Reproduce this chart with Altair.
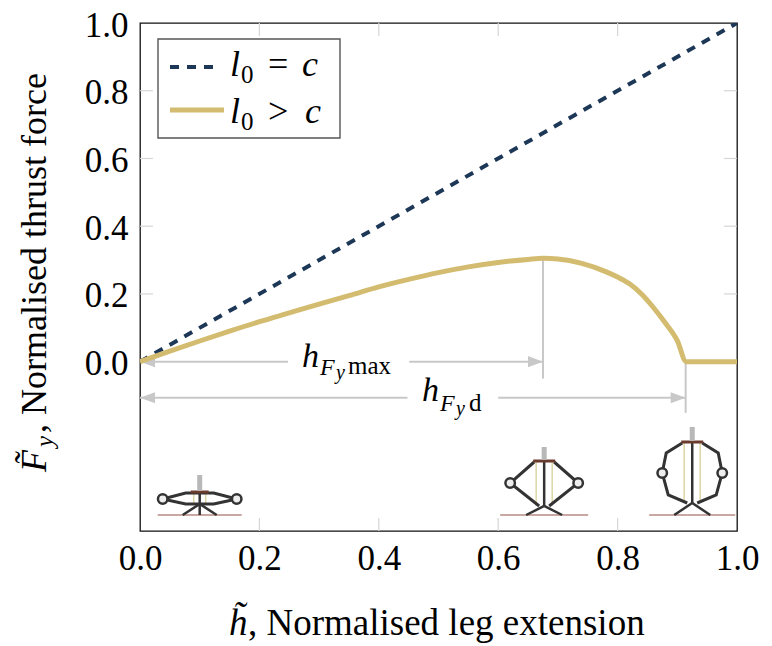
import altair as alt
import pandas as pd

# ---------------- data ----------------
h_norm = [0.0, 0.05, 0.10, 0.15, 0.20, 0.25, 0.30, 0.35, 0.40, 0.45, 0.50, 0.55, 0.60,
          0.65, 0.675, 0.70, 0.74, 0.78, 0.80, 0.82, 0.84, 0.86, 0.88, 0.90, 0.915, 1.0]
F_l0_gt_c = [0.0, 0.031, 0.061, 0.090, 0.118, 0.144, 0.170, 0.195, 0.221, 0.243, 0.263, 0.280, 0.293,
             0.302, 0.305, 0.303, 0.290, 0.266, 0.250, 0.230, 0.200, 0.160, 0.114, 0.062, 0.0, 0.0]
h_eq = [0.0, 1.0]
F_l0_eq_c = [0.0, 1.0]

tick_vals = [0.0, 0.2, 0.4, 0.6, 0.8, 1.0]
inner_tick_vals = [0.2, 0.4, 0.6, 0.8]

h_Fy_max = 0.675      # extension at peak thrust
F_peak = 0.305
h_Fy_d = 0.914        # extension where thrust vanishes
arrow_levels = [0.0, -0.1065]
guide_bottoms = [-0.05, -0.151]
gap_max = [0.248, 0.451]
gap_d = [0.448, 0.600]
robot_h = [0.10, 0.677, 0.925]

# ---------------- style ----------------
W, H = 597, 508
OX, OY = 140, 23          # page position of plot origin (used for text layout)
SERIF = "Liberation Serif"
NAVY = "#1d3856"
GOLD = "#d3bc70"
GREY = "#c8c8c8"
TICK = "#d6d6d6"

xs = alt.Scale(domain=[0, 1], nice=False, zero=False)
ys = alt.Scale(domain=[-0.5, 1], nice=False, zero=False)
xaxis = alt.Axis(values=tick_vals, format=".1f", ticks=False, domain=False, grid=False,
                 labelFont=SERIF, labelFontSize=35, labelColor="black", labelPadding=10,
                 labelFlush=False, labelOverlap=False, title=None)
yaxis = alt.Axis(values=tick_vals, format=".1f", ticks=False, domain=False, grid=False,
                 labelFont=SERIF, labelFontSize=35, labelColor="black", labelPadding=12,
                 labelOffset=2, labelFlush=False, labelOverlap=False, title=None)


def X(f):
    return alt.X(f, scale=xs, axis=xaxis)


def Y(f):
    return alt.Y(f, scale=ys, axis=yaxis)


def PX(f):
    return alt.X(f, scale=None, axis=None)


def PY(f):
    return alt.Y(f, scale=None, axis=None)


def text_rows(items):
    return pd.DataFrame([{"t": t, "px": x - OX, "py": y - OY, "fs": s} for t, x, y, s in items])


def text_layer(items, style="normal", angle=None):
    kw = dict(align="left", baseline="alphabetic", font=SERIF, color="black", fontStyle=style)
    if angle is not None:
        kw["angle"] = angle
    return alt.Chart(text_rows(items)).mark_text(**kw).encode(
        x=PX("px:Q"), y=PY("py:Q"), text="t:N", size=alt.Size("fs:Q", scale=None))


# ---------------- inner ticks ----------------
df_it = pd.DataFrame({"v": inner_tick_vals})
tick_b = alt.Chart(df_it).mark_rule(color=TICK, strokeWidth=1.2).encode(
    x=X("v:Q"), y=alt.value(H), y2=alt.value(H - 13))
tick_t = alt.Chart(df_it).mark_rule(color=TICK, strokeWidth=1.2).encode(
    x=X("v:Q"), y=alt.value(0), y2=alt.value(13))
tick_l = alt.Chart(df_it).mark_rule(color=TICK, strokeWidth=1.2).encode(
    y=Y("v:Q"), x=alt.value(0), x2=alt.value(13))
tick_r = alt.Chart(df_it).mark_rule(color=TICK, strokeWidth=1.2).encode(
    y=Y("v:Q"), x=alt.value(W), x2=alt.value(W - 13))

# ---------------- dimension arrows ----------------
df_seg = pd.DataFrame({
    "x1": [0.0, gap_max[1], 0.0, gap_d[1]],
    "x2": [gap_max[0], h_Fy_max, gap_d[0], h_Fy_d],
    "y": [arrow_levels[0], arrow_levels[0], arrow_levels[1], arrow_levels[1]],
})
segs = alt.Chart(df_seg).mark_rule(color=GREY, strokeWidth=2).encode(
    x=X("x1:Q"), x2="x2:Q", y=Y("y:Q"))
df_vg = pd.DataFrame({"x": [h_Fy_max, h_Fy_d], "y1": [F_peak, 0.0], "y2": guide_bottoms})
vguides = alt.Chart(df_vg).mark_rule(color=GREY, strokeWidth=2).encode(
    x=X("x:Q"), y=Y("y1:Q"), y2="y2:Q")
df_al = pd.DataFrame({"x": [0.0, 0.0], "y": arrow_levels})
df_ar = pd.DataFrame({"x": [h_Fy_max, h_Fy_d], "y": arrow_levels})
head_l = alt.Chart(df_al).mark_point(shape="M0,0L1,-0.37L1,0.37Z", size=900, filled=True,
                                     color=GREY, opacity=1, strokeWidth=0).encode(x=X("x:Q"), y=Y("y:Q"))
head_r = alt.Chart(df_ar).mark_point(shape="M0,0L-1,-0.37L-1,0.37Z", size=900, filled=True,
                                     color=GREY, opacity=1, strokeWidth=0).encode(x=X("x:Q"), y=Y("y:Q"))

dim_it = text_layer([("h", 302, 367, 34), ("F", 320, 375, 24), ("y", 336, 379, 20),
                     ("h", 422, 401, 34), ("F", 440, 411, 24), ("y", 456, 415, 20)], "italic")
dim_rm = text_layer([("max", 348, 374, 25), ("d", 469, 411, 25)])

# ---------------- curves ----------------
df_eq = pd.DataFrame({"h": h_eq, "F": F_l0_eq_c})
dashed = alt.Chart(df_eq).mark_line(color=NAVY, strokeWidth=4, strokeDash=[9, 8], clip=True).encode(
    x=X("h:Q"), y=Y("F:Q"))
df_gt = pd.DataFrame({"h": h_norm, "F": F_l0_gt_c})
gold = alt.Chart(df_gt).mark_line(color=GOLD, strokeWidth=5, interpolate="monotone", clip=True).encode(
    x=X("h:Q"), y=Y("F:Q"))

# ---------------- robot sketches ----------------
DARK, ROD, COL, PLATE, GROUND = "#333333", "#dcd6a4", "#b8b8b8", "#6b3b2e", "#c9a7a2"
robots = [
    ([(GROUND, 2, [(-42, 0), (42, 0)]),
      (ROD, 1.5, [(-6, 22), (-6, 11)]), (ROD, 1.5, [(6, 22), (6, 11)]),
      (DARK, 3, [(-37, 16), (-14, 22), (14, 22), (37, 16)]),
      (DARK, 3, [(-37, 16), (-14, 11), (14, 11), (37, 16)]),
      (DARK, 2.5, [(-17, 0), (0, 11), (17, 0)]),
      (DARK, 2.5, [(0, 0), (0, 22)]),
      (PLATE, 3, [(-9, 23), (9, 23)]),
      (COL, 5, [(0, 24), (0, 40)])],
     [(-37, 16), (37, 16)]),
    ([(GROUND, 2, [(-44, 0), (44, 0)]),
      (ROD, 1.5, [(-8, 53), (-8, 9)]), (ROD, 1.5, [(8, 53), (8, 9)]),
      (DARK, 3, [(-10, 53), (-34, 32), (-5, 9)]),
      (DARK, 3, [(10, 53), (34, 32), (5, 9)]),
      (DARK, 2.5, [(0, 53), (0, 9)]),
      (DARK, 2.5, [(-18, 0), (0, 9), (18, 0)]),
      (PLATE, 3, [(-11, 54), (11, 54)]),
      (COL, 5, [(0, 55), (0, 68)])],
     [(-34, 32), (34, 32)]),
    ([(GROUND, 2, [(-43, 0), (43, 0)]),
      (ROD, 1.5, [(-8, 72), (-8, 12)]), (ROD, 1.5, [(8, 72), (8, 12)]),
      (DARK, 3, [(-10, 72), (-26, 62), (-30, 42), (-24, 20), (-5, 12)]),
      (DARK, 3, [(10, 72), (26, 62), (30, 42), (24, 20), (5, 12)]),
      (DARK, 2.5, [(0, 72), (0, 12)]),
      (DARK, 2.5, [(-18, 0), (0, 12), (18, 0)]),
      (PLATE, 3, [(-11, 73), (11, 73)]),
      (COL, 5, [(0, 74), (0, 88)])],
     [(-30, 42), (30, 42)]),
]
GROUND_Y = 515 - OY
line_rows, joint_rows = [], []
pid = 0
for hc, (parts, joints) in zip(robot_h, robots):
    cx = hc * W
    for col, sw, pts in parts:
        for i, (dx, dy) in enumerate(pts):
            line_rows.append({"part": pid, "i": i, "px": cx + dx, "py": GROUND_Y - dy, "col": col, "sw": sw})
        pid += 1
    for dx, dy in joints:
        joint_rows.append({"px": cx + dx, "py": GROUND_Y - dy})
robot_lines = alt.Chart(pd.DataFrame(line_rows)).mark_line().encode(
    x=PX("px:Q"), y=PY("py:Q"), detail="part:N", order="i:Q",
    color=alt.Color("col:N", scale=None), strokeWidth=alt.StrokeWidth("sw:Q", scale=None))
robot_joints = alt.Chart(pd.DataFrame(joint_rows)).mark_circle(
    size=90, fill="#eeeeee", stroke=DARK, strokeWidth=2.5, opacity=1).encode(x=PX("px:Q"), y=PY("py:Q"))

# ---------------- legend ----------------
leg_box = alt.Chart(pd.DataFrame({"x1": [158 - OX], "x2": [340 - OX], "y1": [39 - OY], "y2": [138 - OY]})
                    ).mark_rect(fill="white", stroke="#555555", strokeWidth=1.4).encode(
    x=PX("x1:Q"), x2="x2:Q", y=PY("y1:Q"), y2="y2:Q")
leg_dash = alt.Chart(pd.DataFrame({"x1": [170 - OX], "x2": [218 - OX], "y": [67 - OY]})).mark_rule(
    color=NAVY, strokeWidth=4, strokeDash=[9, 8]).encode(x=PX("x1:Q"), x2="x2:Q", y=PY("y:Q"))
leg_gold = alt.Chart(pd.DataFrame({"x1": [170 - OX], "x2": [224 - OX], "y": [110 - OY]})).mark_rule(
    color=GOLD, strokeWidth=5).encode(x=PX("x1:Q"), x2="x2:Q", y=PY("y:Q"))
leg_it = text_layer([("l", 230, 76, 36), ("c", 302, 76, 36), ("l", 230, 123, 36), ("c", 305, 123, 36)], "italic")
leg_rm = text_layer([("0", 241, 83, 25), ("=", 268, 76, 36), ("0", 241, 130, 25), (">", 268, 123, 36)])

# ---------------- axis titles ----------------
xt_it = text_layer([("h\u0303", 229, 635, 37)], "italic")
xt_rm = text_layer([(", Normalised leg extension", 248, 635, 37)])
yt_it = text_layer([("F\u0303", 46, 472, 36), ("y", 53, 447, 25)], "italic", angle=270)
yt_rm = text_layer([(", Normalised thrust force", 46, 433, 36)], angle=270)

chart = alt.layer(
    tick_b, tick_t, tick_l, tick_r,
    segs, vguides, head_l, head_r, dim_it, dim_rm,
    dashed, gold,
    robot_lines, robot_joints,
    leg_box, leg_dash, leg_gold, leg_it, leg_rm,
    xt_it, xt_rm, yt_it, yt_rm,
).properties(
    width=W, height=H,
    padding={"left": 132, "top": 15, "right": 27, "bottom": 115},
    autosize=alt.AutoSizeParams(type="none"),
    background="white",
).configure_view(stroke="#111111", strokeWidth=1.3)

chart.save("out.html", embed_options={"renderer": "svg", "actions": False})
